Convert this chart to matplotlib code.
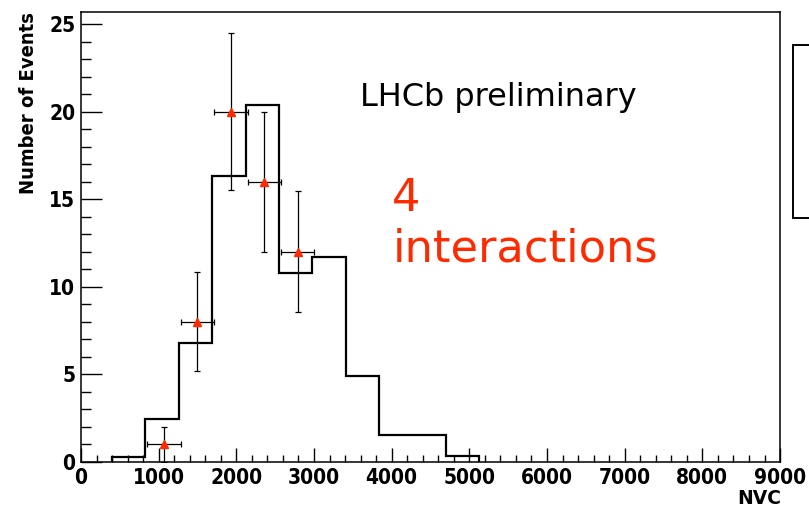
import numpy as np
import matplotlib
matplotlib.use("Agg")
import matplotlib.pyplot as plt
from matplotlib.patches import Rectangle
from matplotlib.ticker import MultipleLocator
from matplotlib.font_manager import FontProperties

# simulated distribution (scaled), bin edges in NVC
mc_edges = [400, 830, 1260, 1690, 2120, 2550, 2980, 3410, 3840, 4270, 4700, 5130]
mc_counts = [0.3, 2.45, 6.77, 16.34, 20.38, 10.8, 11.72, 4.93, 1.54, 1.54, 0.34]

# data points, 4-interaction events
data_x = [1070, 1500, 1930, 2360, 2790]
data_n = [1, 8, 20, 16, 12]
bin_w = 430

red = "#ff2a00"

fig = plt.figure(figsize=(8.09, 5.08), dpi=100)
ax = fig.add_axes([0.1001, 0.0906, 0.8641, 0.8858])

ax.stairs(mc_counts, mc_edges, baseline=0, color="black", lw=1.6)

yerr = np.sqrt(data_n)
yerr_lo = np.minimum(yerr, data_n)
ax.errorbar(data_x, data_n, xerr=bin_w / 2, yerr=[yerr_lo, yerr],
            fmt="^", color=red, ms=6, mec=red, ecolor="black",
            elinewidth=0.9, capsize=2.5, capthick=0.9, zorder=3)

ax.set_xlim(0, 9000)
ax.set_ylim(0, 25.69)
ax.xaxis.set_major_locator(MultipleLocator(1000))
ax.xaxis.set_minor_locator(MultipleLocator(200))
ax.yaxis.set_major_locator(MultipleLocator(5))
ax.yaxis.set_minor_locator(MultipleLocator(1))
ax.tick_params(which="both", direction="in", top=False, right=False, width=1.0)
ax.tick_params(axis="y", which="major", length=15, pad=4)
ax.tick_params(axis="y", which="minor", length=7)
ax.tick_params(axis="x", which="major", length=10, pad=4)
ax.tick_params(axis="x", which="minor", length=5)
for sp in ax.spines.values():
    sp.set_linewidth(1.1)

tick_font = FontProperties(family="DejaVu Sans", weight="bold", stretch="condensed", size=15)
for lab in ax.get_xticklabels() + ax.get_yticklabels():
    lab.set_fontproperties(tick_font)

ax.set_ylabel("Number of Events", fontweight="bold", fontstretch="condensed",
              fontsize=14.5, loc="top", labelpad=8)
ax.set_xlabel("NVC", fontweight="bold", fontsize=13.5, loc="right", labelpad=1)
ax.xaxis.label.set_x(1.002)

ax.text(0.399, 0.79, "LHCb preliminary", transform=ax.transAxes,
        fontsize=23, color="black", va="baseline")
fig.text(0.485, 0.485, "4\ninteractions", fontsize=32.2, color=red,
         va="baseline", linespacing=1.22)

# stats box at the right edge
fig.patches.append(Rectangle((793 / 809, 1 - 218 / 508), 0.1, 173 / 508,
                             transform=fig.transFigure, fill=True, fc="white",
                             ec="black", lw=1.4, clip_on=False))

fig.savefig("out.png", dpi=100)
